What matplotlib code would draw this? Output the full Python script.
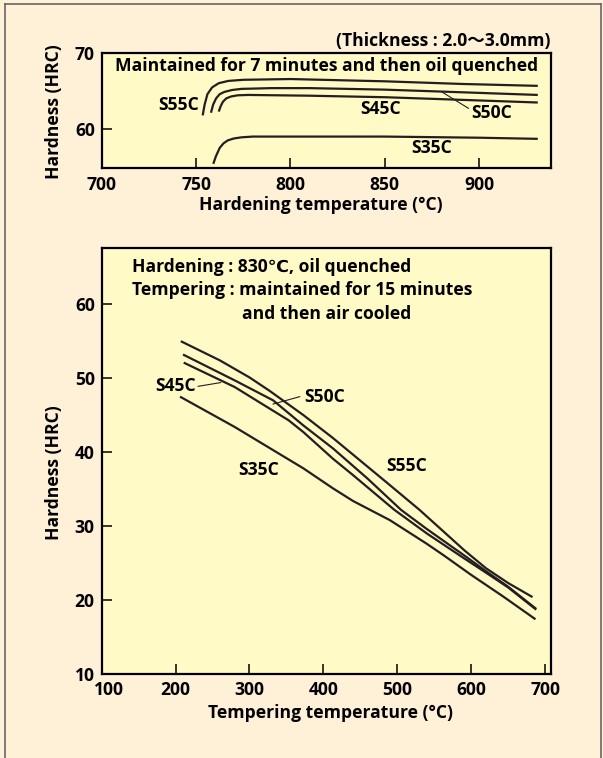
import matplotlib.pyplot as plt
from matplotlib.lines import Line2D
from matplotlib.transforms import ScaledTranslation

plt.rcParams['font.family'] = ['Open Sans', 'DejaVu Sans', 'Noto Sans CJK JP']
plt.rcParams['font.weight'] = 'bold'

# --- hardening temperature vs hardness (top chart) ---
q55_t = [753.5, 754.5, 756, 758.5, 762, 767, 775, 800, 850, 891, 931]
q55_h = [61.8, 63.2, 64.6, 65.5, 66.05, 66.35, 66.5, 66.6, 66.3, 65.95, 65.7]
q50_t = [757.9, 759, 760.6, 762.5, 765, 769, 774, 790, 810, 850, 891, 931]
q50_h = [62.15, 63.2, 64.05, 64.6, 64.9, 65.15, 65.3, 65.4, 65.4, 65.2, 64.85, 64.5]
q45_t = [762, 763, 764.2, 766, 768.6, 772, 777.5, 810, 850, 891, 931]
q45_h = [62.3, 63.0, 63.6, 64.05, 64.3, 64.45, 64.5, 64.4, 64.2, 63.85, 63.5]
q35_t = [759.1, 760.5, 762.5, 764.5, 766.8, 770, 774, 780, 800, 850, 900, 931]
q35_h = [55.4, 56.4, 57.5, 58.1, 58.5, 58.75, 58.9, 59.0, 59.0, 59.0, 58.85, 58.7]

# --- tempering temperature vs hardness (bottom chart) ---
t55_t = [207, 260, 300, 327, 373, 413, 436, 488, 530, 591, 620, 650, 683]
t55_h = [55.0, 52.4, 50.1, 48.3, 45.0, 41.9, 40.0, 35.7, 32.2, 26.7, 24.3, 22.3, 20.4]
t50_t = [210, 280, 332, 373, 413, 460, 505, 540, 591, 620, 650, 688]
t50_h = [53.2, 49.7, 47.0, 43.6, 40.5, 36.4, 32.2, 29.6, 26.0, 23.9, 21.8, 18.8]
t45_t = [211, 280, 353, 373, 413, 440, 496, 540, 591, 620, 650, 688]
t45_h = [52.1, 48.8, 44.3, 42.7, 39.1, 36.9, 32.2, 29.0, 25.6, 23.7, 21.7, 18.7]
t35_t = [206, 280, 373, 413, 440, 490, 540, 562, 600, 643, 687]
t35_h = [47.5, 43.4, 37.8, 35.1, 33.4, 30.8, 27.6, 26.1, 23.4, 20.5, 17.4]

bg = '#fff0d8'
panel = '#fffac6'
ink = '#231f20'
fs = 12.6

fig = plt.figure(figsize=(6.03, 7.58), dpi=100, facecolor=bg)

# outer frame
fr = '#666666'
fig.add_artist(Line2D([4.5/603, 4.5/603], [0, 1-3.5/758], transform=fig.transFigure, color=fr, lw=1.2))
fig.add_artist(Line2D([4.5/603, 601/603], [1-3.5/758, 1-3.5/758], transform=fig.transFigure, color=fr, lw=1.2))
fig.add_artist(Line2D([601/603, 601/603], [0, 1-3.5/758], transform=fig.transFigure, color=fr, lw=1.2))

ax1 = fig.add_axes([101.7/603, 1-168/758, 449.3/603, 114.7/758], facecolor=panel)
ax2 = fig.add_axes([101.7/603, 1-674/758, 449.3/603, 426/758], facecolor=panel)

for ax in (ax1, ax2):
    for s in ax.spines.values():
        s.set_linewidth(1.6)
        s.set_color('black')
    ax.tick_params(direction='in', length=7, width=1.1, labelsize=fs, colors='black')
    ax.tick_params(axis='y', pad=5)

# top chart
for t, h in [(q55_t, q55_h), (q50_t, q50_h), (q45_t, q45_h), (q35_t, q35_h)]:
    ax1.plot(t, h, color=ink, lw=1.6, solid_capstyle='butt')
ax1.set_xlim(700, 938)
ax1.set_ylim(54.85, 70)
ax1.set_xticks([700, 750, 800, 850, 900])
ax1.set_yticks([60, 70])
ax1.tick_params(axis='x', pad=5.5)
ax1.set_ylabel('Hardness (HRC)', fontsize=fs, fontweight='bold')
ax1.yaxis.set_label_coords(-0.106, 0.49)
ax1.set_xlabel('Hardening temperature (°C)', fontsize=fs, fontweight='bold')
ax1.xaxis.set_label_coords(0.488, -0.32)
ax1.xaxis.label.set_va('center')
ax1.yaxis.label.set_va('center')
ax1.text(0.5, 0.889, 'Maintained for 7 minutes and then oil quenched', transform=ax1.transAxes,
         ha='center', va='center', fontsize=fs)
ax1.text(1.0, 1.11, '(Thickness : 2.0～3.0mm)', transform=ax1.transAxes,
         ha='right', va='center', fontsize=fs)
ax1.text(741, 63.2, 'S55C', ha='center', va='center', fontsize=fs)
ax1.text(847.9, 62.7, 'S45C', ha='center', va='center', fontsize=fs)
ax1.text(906.7, 62.15, 'S50C', ha='center', va='center', fontsize=fs)
ax1.text(874.7, 57.45, 'S35C', ha='center', va='center', fontsize=fs)
ax1.plot([880.5, 894.3], [64.85, 62.73], color=ink, lw=0.8)

# bottom chart
for t, h in [(t55_t, t55_h), (t50_t, t50_h), (t45_t, t45_h), (t35_t, t35_h)]:
    ax2.plot(t, h, color=ink, lw=1.6, solid_capstyle='butt')
ax2.set_xlim(100, 708)
ax2.set_ylim(10, 67.6)
ax2.set_xticks([100, 200, 300, 400, 500, 600, 700])
ax2.set_yticks([10, 20, 30, 40, 50, 60])
ax2.tick_params(axis='x', pad=5)
lbl = ax2.get_xticklabels()[0]
lbl.set_transform(lbl.get_transform() + ScaledTranslation(7/100, 0, fig.dpi_scale_trans))
ax2.set_ylabel('Hardness (HRC)', fontsize=fs, fontweight='bold')
ax2.yaxis.set_label_coords(-0.106, 0.472)
ax2.yaxis.label.set_va('center')
ax2.set_xlabel('Tempering temperature (°C)', fontsize=fs, fontweight='bold')
ax2.xaxis.set_label_coords(0.51, -0.0915)
ax2.xaxis.label.set_va('center')

ax2.text(0.068, 0.956, 'Hardening : 830℃, oil quenched', transform=ax2.transAxes,
         ha='left', va='center', fontsize=fs)
ax2.text(0.068, 0.901, 'Tempering : maintained for 15 minutes', transform=ax2.transAxes,
         ha='left', va='center', fontsize=fs)
ax2.text(0.3116, 0.846, 'and then air cooled', transform=ax2.transAxes,
         ha='left', va='center', fontsize=fs)

ax2.text(200.5, 48.9, 'S45C', ha='center', va='center', fontsize=fs)
ax2.plot([230.6, 260.8], [48.9, 49.4], color=ink, lw=0.8)
ax2.text(401.9, 47.5, 'S50C', ha='center', va='center', fontsize=fs)
ax2.plot([332, 368], [46.5, 47.5], color=ink, lw=0.8)
ax2.text(512.4, 38.1, 'S55C', ha='center', va='center', fontsize=fs)
ax2.text(311.8, 37.6, 'S35C', ha='center', va='center', fontsize=fs)

fig.savefig('out.png', dpi=100, facecolor=bg)
